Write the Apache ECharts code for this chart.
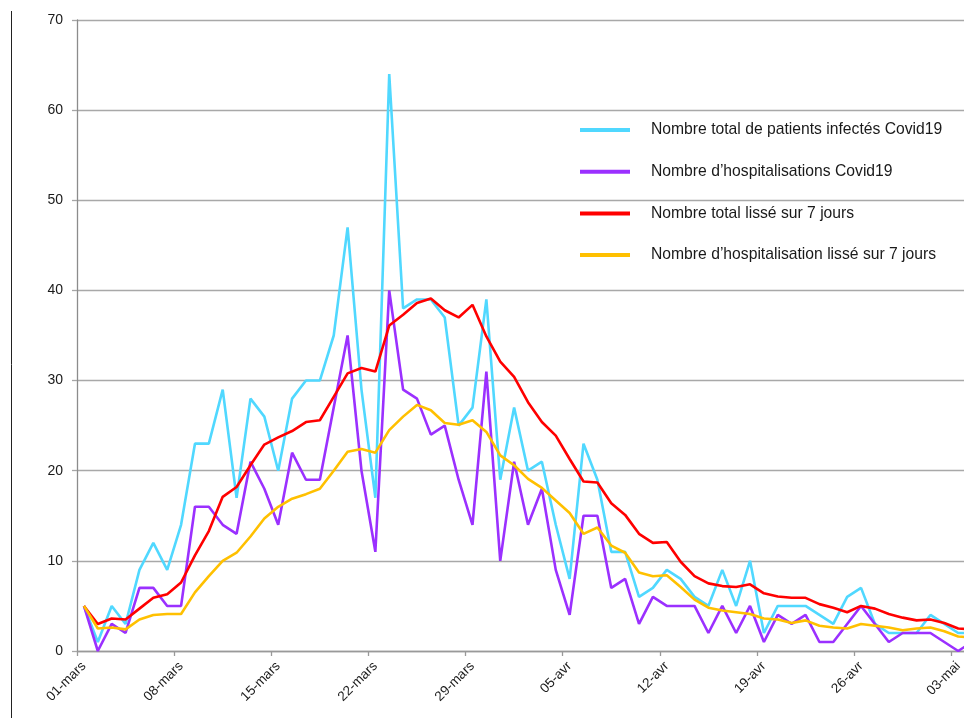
<!DOCTYPE html>
<html><head><meta charset="utf-8">
<script src="https://cdn.jsdelivr.net/npm/echarts@6/dist/echarts.min.js"></script>
<style>html,body{margin:0;padding:0;background:#fff;overflow:hidden;width:964px;height:718px}#c{width:979px;height:718px}</style>
</head><body><div id="c"></div>
<script>
const categories = [
 '01-mars','02-mars','03-mars','04-mars','05-mars','06-mars','07-mars','08-mars','09-mars','10-mars',
 '11-mars','12-mars','13-mars','14-mars','15-mars','16-mars','17-mars','18-mars','19-mars','20-mars',
 '21-mars','22-mars','23-mars','24-mars','25-mars','26-mars','27-mars','28-mars','29-mars','30-mars','31-mars',
 '01-avr','02-avr','03-avr','04-avr','05-avr','06-avr','07-avr','08-avr','09-avr','10-avr',
 '11-avr','12-avr','13-avr','14-avr','15-avr','16-avr','17-avr','18-avr','19-avr','20-avr',
 '21-avr','22-avr','23-avr','24-avr','25-avr','26-avr','27-avr','28-avr','29-avr','30-avr',
 '01-mai','02-mai','03-mai','04-mai'
];
const seriesNames = [
 'Nombre total de patients infectés Covid19',
 'Nombre d\u2019hospitalisations Covid19',
 'Nombre total lissé sur 7 jours',
 'Nombre d\u2019hospitalisation lissé sur 7 jours'
];
const totalInfected = [5,1,5,3,9,12,9,14,23,23,29,17,28,26,20,28,30,30,35,47,29,17,64,38,39,39,37,25,27,39,19,27,20,21,14,8,23,19,11,11,6,7,9,8,6,5,9,5,10,2,5,5,5,4,3,6,7,3,2,2,2,4,3,2,2];
const hospitalisations = [5,0,3,2,7,7,5,5,16,16,14,13,21,18,14,22,19,19,27,35,20,11,40,29,28,24,25,19,14,31,10,21,14,18,9,4,15,15,7,8,3,6,5,5,5,2,5,2,5,1,4,3,4,1,1,3,5,3,1,2,2,2,1,0,1];
const totalSmoothed = [5,3.0,3.6,3.5,4.7,5.9,6.3,7.6,10.6,13.3,17.1,18.2,20.6,22.9,23.7,24.4,25.4,25.6,28.2,30.8,31.4,31.0,36.1,37.3,38.6,39.1,37.8,37.0,38.4,34.9,32.1,30.4,27.6,25.4,23.9,21.3,18.8,18.7,16.4,15.1,13.0,12.0,12.1,9.9,8.3,7.5,7.2,7.1,7.4,6.4,6.05,5.9,5.9,5.2,4.8,4.3,5.0,4.7,4.1,3.7,3.4,3.5,3.1,2.5,2.4];
const hospSmoothed = [5,2.5,2.6,2.4,3.5,4.0,4.1,4.1,6.5,8.3,10.0,10.9,12.7,14.7,16.0,16.9,17.4,18.0,20.0,22.1,22.4,22.0,24.5,26.0,27.3,26.7,25.3,25.1,25.6,24.3,21.7,20.6,19.1,18.1,16.7,15.3,13.0,13.7,11.7,10.9,8.7,8.3,8.4,7.1,5.7,4.8,4.5,4.3,4.1,3.6,3.5,3.1,3.4,2.8,2.6,2.5,3.0,2.8,2.6,2.3,2.5,2.6,2.2,1.6,1.5];
const yTicks = {min:0, max:70, interval:10};
const colors = ['#50D8FF','#9B30FF','#FF0000','#FFC000'];
const values = [totalInfected, hospitalisations, totalSmoothed, hospSmoothed];

const chart = echarts.init(document.getElementById('c'), null, {renderer:'canvas'});
const font = 'Liberation Sans, Arial, sans-serif';
chart.setOption({
  animation:false,
  backgroundColor:'#fff',
  grid:{left:77, top:20, bottom:67, right:0, containLabel:false},
  legend:{
    orient:'vertical', left:580, top:121, padding:0, itemWidth:50, itemHeight:4, itemGap:23.7,
    icon:'rect',
    textStyle:{fontFamily:font, fontSize:15.7, color:'#1a1a1a', lineHeight:18, padding:[0,0,0,16]},
    data:seriesNames
  },
  xAxis:{
    type:'category', data:categories, boundaryGap:true,
    axisLine:{show:true, lineStyle:{color:'#999', width:1.3}},
    axisTick:{show:true, interval:6, length:5, lineStyle:{color:'#999', width:1.3}},
    axisLabel:{interval:6, rotate:45, margin:13, fontFamily:font, fontSize:13.5, color:'#1a1a1a'},
    splitLine:{show:false}
  },
  yAxis:{
    type:'value', min:yTicks.min, max:yTicks.max, interval:yTicks.interval,
    axisLine:{show:true, lineStyle:{color:'#8c8c8c', width:1.3}},
    axisTick:{show:true, length:5, lineStyle:{color:'#a6a6a6', width:1.3}},
    axisLabel:{margin:14, fontFamily:font, fontSize:14, color:'#1a1a1a'},
    splitLine:{show:true, lineStyle:{color:'#a8a8a8', width:1.3}}
  },
  graphic:[{type:'line', shape:{x1:11.5, y1:11, x2:11.5, y2:718}, style:{stroke:'#222', lineWidth:1}, silent:true}],
  series: seriesNames.map((n,i)=>({
    name:n, type:'line', data:values[i], symbol:'none', smooth:false,
    lineStyle:{color:colors[i], width:2.6}, itemStyle:{color:colors[i]}, z:2+i
  }))
});
</script></body></html>
